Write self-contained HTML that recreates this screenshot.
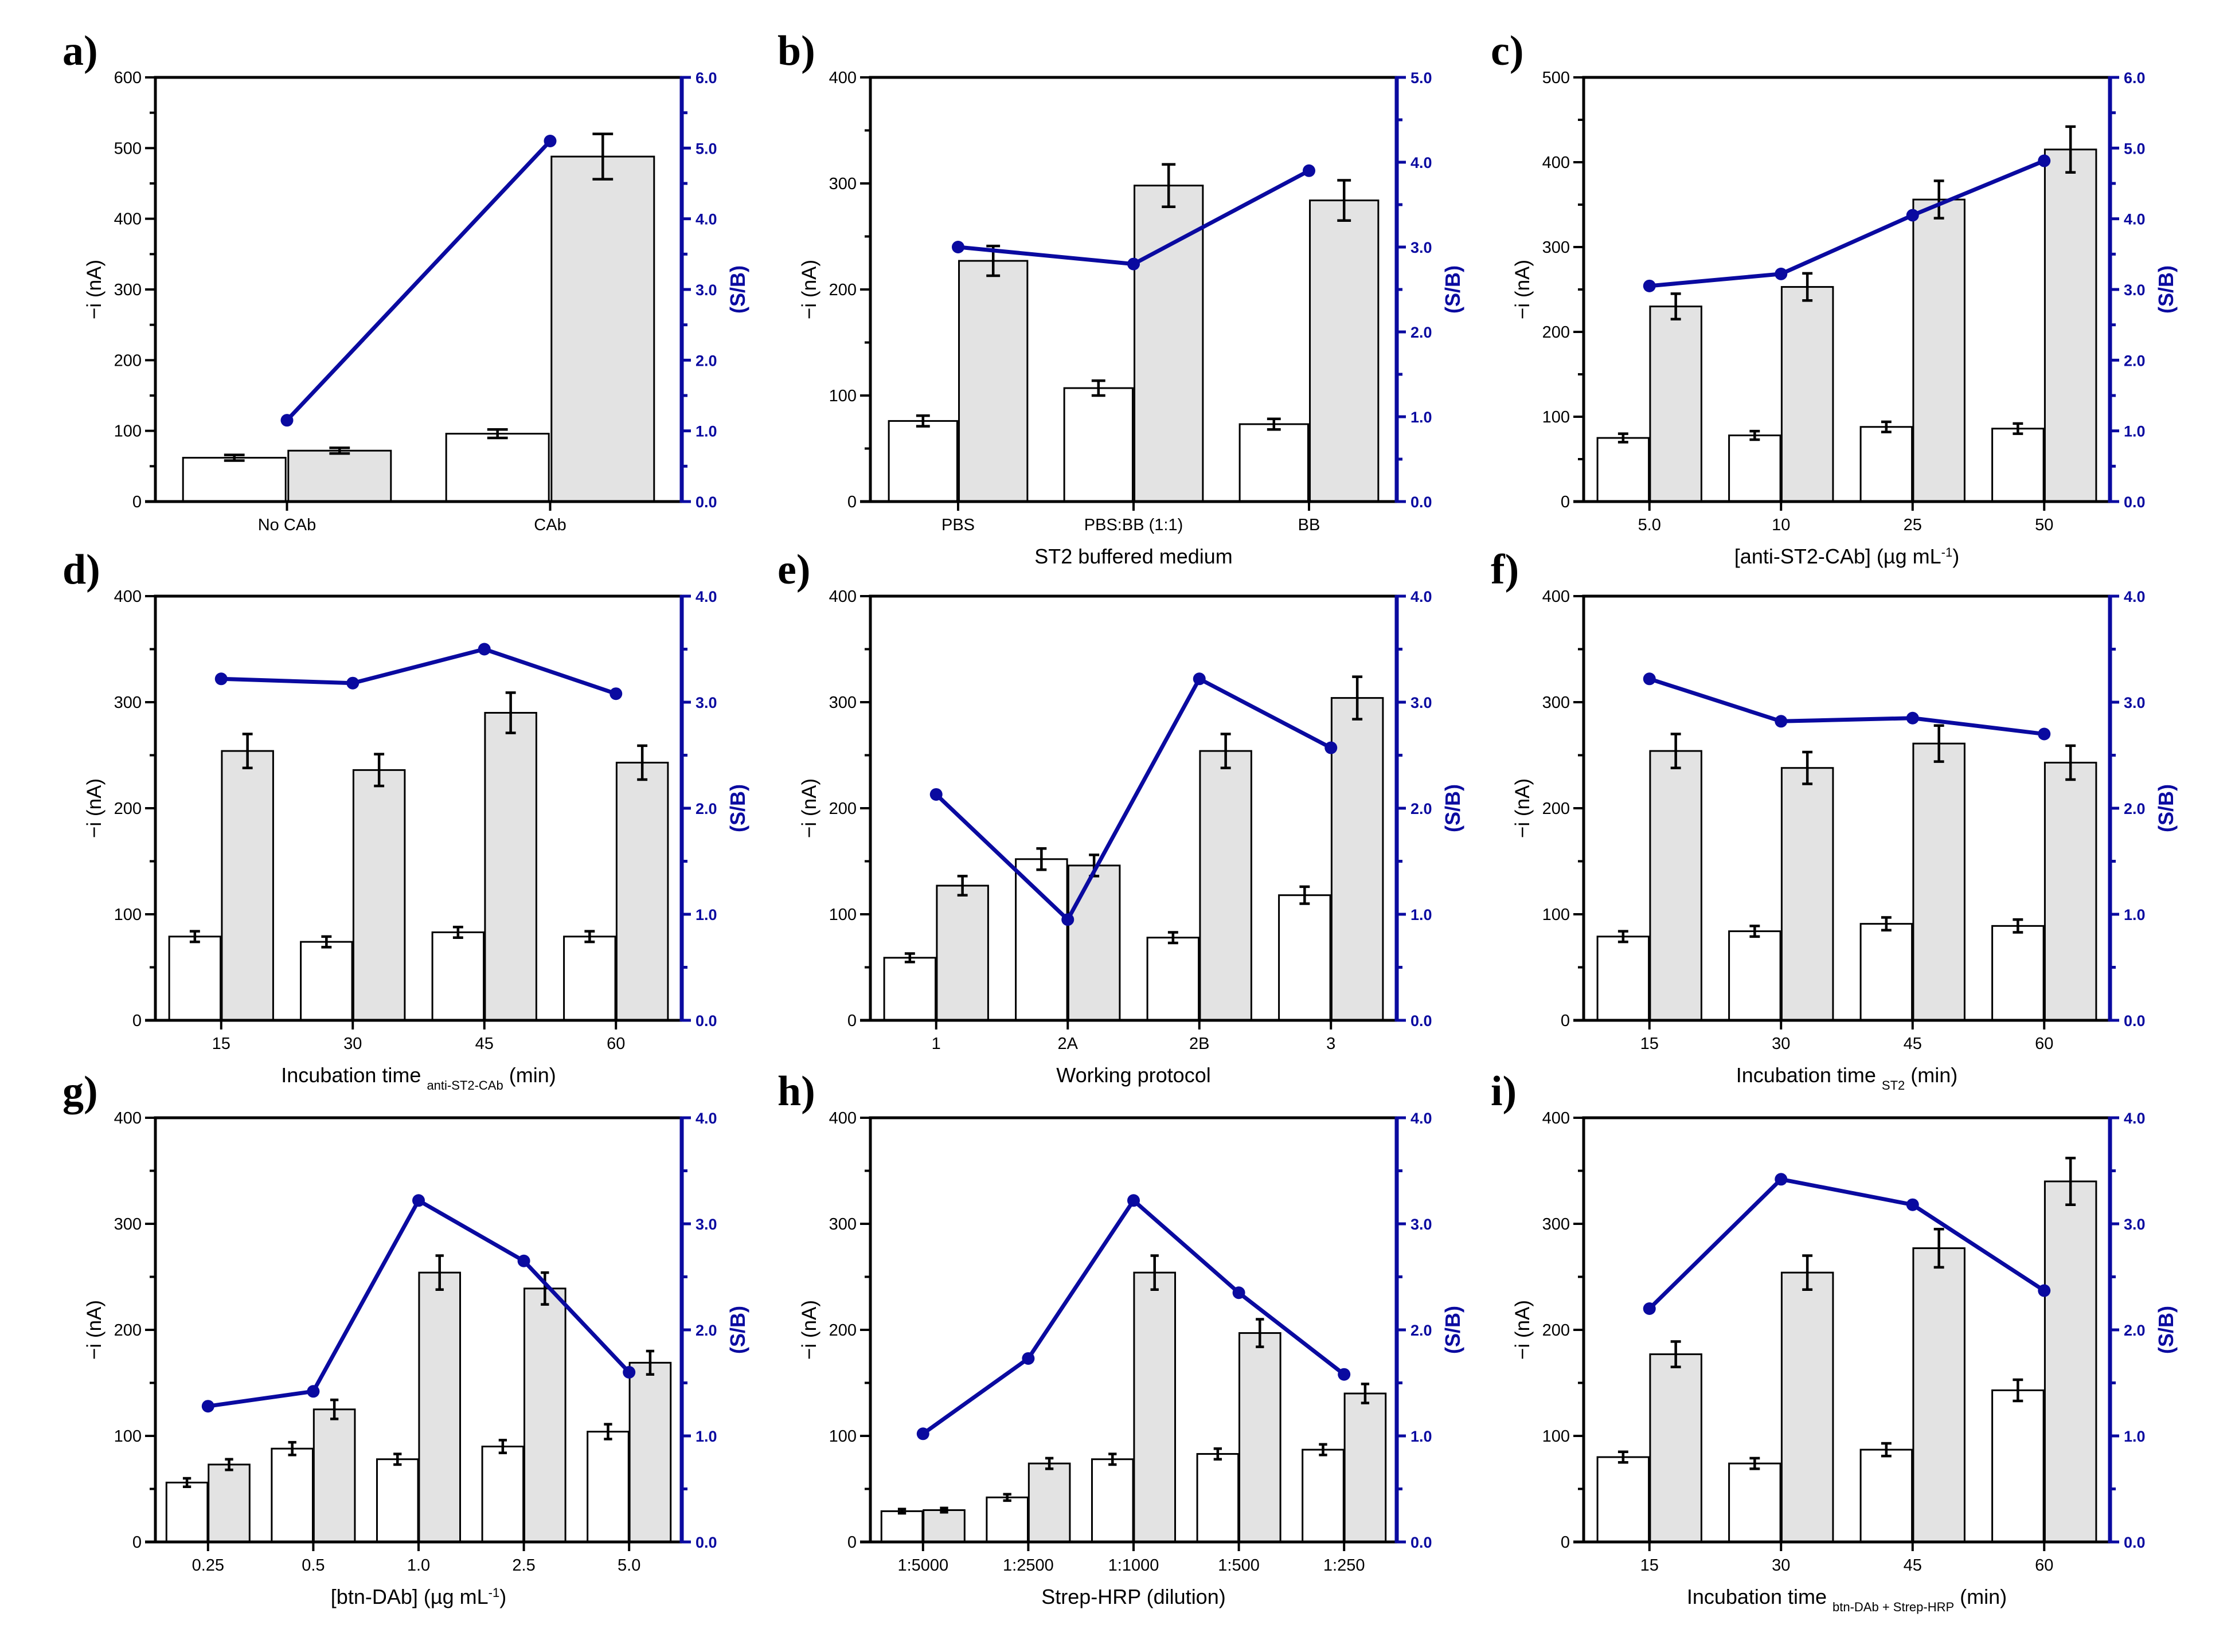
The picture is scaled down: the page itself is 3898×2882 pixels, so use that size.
<!DOCTYPE html>
<html><head><meta charset="utf-8"><style>
html,body{margin:0;padding:0;background:#fff;}
svg{display:block;}
text{font-family:"Liberation Sans",sans-serif;}
text.plab{font-family:"Liberation Serif",serif;}
</style></head>
<body>
<svg id="fig" width="3898" height="2882" viewBox="0 0 3898 2882" xmlns="http://www.w3.org/2000/svg"></svg>
<script>
// ---- data ----
const aCats=["No CAb","CAb"];
const aWhite=[62,96];const aWhiteErr=[4,6];
const aGrey=[72,488];const aGreyErr=[4,32];
const aSB=[1.15,5.1];
const bCats=["PBS","PBS:BB (1:1)","BB"];
const bWhite=[76,107,73];const bWhiteErr=[5,7,5];
const bGrey=[227,298,284];const bGreyErr=[14,20,19];
const bSB=[3.0,2.8,3.9];
const cCats=["5.0","10","25","50"];
const cWhite=[75,78,88,86];const cWhiteErr=[5,5,6,6];
const cGrey=[230,253,356,415];const cGreyErr=[15,16,22,27];
const cSB=[3.05,3.22,4.05,4.82];
const dCats=["15","30","45","60"];
const dWhite=[79,74,83,79];const dWhiteErr=[5,5,5,5];
const dGrey=[254,236,290,243];const dGreyErr=[16,15,19,16];
const dSB=[3.22,3.18,3.5,3.08];
const eCats=["1","2A","2B","3"];
const eWhite=[59,152,78,118];const eWhiteErr=[4,10,5,8];
const eGrey=[127,146,254,304];const eGreyErr=[9,10,16,20];
const eSB=[2.13,0.95,3.22,2.57];
const fCats=["15","30","45","60"];
const fWhite=[79,84,91,89];const fWhiteErr=[5,5,6,6];
const fGrey=[254,238,261,243];const fGreyErr=[16,15,17,16];
const fSB=[3.22,2.82,2.85,2.7];
const gCats=["0.25","0.5","1.0","2.5","5.0"];
const gWhite=[56,88,78,90,104];const gWhiteErr=[4,6,5,6,7];
const gGrey=[73,125,254,239,169];const gGreyErr=[5,9,16,15,11];
const gSB=[1.28,1.42,3.22,2.65,1.6];
const hCats=["1:5000","1:2500","1:1000","1:500","1:250"];
const hWhite=[29,42,78,83,87];const hWhiteErr=[2,3,5,5,5];
const hGrey=[30,74,254,197,140];const hGreyErr=[2,5,16,13,9];
const hSB=[1.02,1.73,3.22,2.35,1.58];
const iCats=["15","30","45","60"];
const iWhite=[80,74,87,143];const iWhiteErr=[5,5,6,10];
const iGrey=[177,254,277,340];const iGreyErr=[12,16,18,22];
const iSB=[2.2,3.42,3.18,2.37];

const NS="http://www.w3.org/2000/svg";
const svg=document.getElementById('fig');
function el(tag,attrs,parent){const e=document.createElementNS(NS,tag);for(const k in attrs)e.setAttribute(k,attrs[k]);(parent||svg).appendChild(e);return e;}

const panels=[
 {id:"a",col:0,row:0,cats:aCats,w:aWhite,we:aWhiteErr,g:aGrey,ge:aGreyErr,sb:aSB,ymax:600,ystep:100,rmax:6,xl:null},
 {id:"b",col:1,row:0,cats:bCats,w:bWhite,we:bWhiteErr,g:bGrey,ge:bGreyErr,sb:bSB,ymax:400,ystep:100,rmax:5,xl:[["ST2 buffered medium",0]]},
 {id:"c",col:2,row:0,cats:cCats,w:cWhite,we:cWhiteErr,g:cGrey,ge:cGreyErr,sb:cSB,ymax:500,ystep:100,rmax:6,xl:[["[anti-ST2-CAb] (µg mL",0],["-1",1],[")",0]]},
 {id:"d",col:0,row:1,cats:dCats,w:dWhite,we:dWhiteErr,g:dGrey,ge:dGreyErr,sb:dSB,ymax:400,ystep:100,rmax:4,xl:[["Incubation time ",0],["anti-ST2-CAb",-1],[" (min)",0]]},
 {id:"e",col:1,row:1,cats:eCats,w:eWhite,we:eWhiteErr,g:eGrey,ge:eGreyErr,sb:eSB,ymax:400,ystep:100,rmax:4,xl:[["Working protocol",0]]},
 {id:"f",col:2,row:1,cats:fCats,w:fWhite,we:fWhiteErr,g:fGrey,ge:fGreyErr,sb:fSB,ymax:400,ystep:100,rmax:4,xl:[["Incubation time ",0],["ST2",-1],[" (min)",0]]},
 {id:"g",col:0,row:2,cats:gCats,w:gWhite,we:gWhiteErr,g:gGrey,ge:gGreyErr,sb:gSB,ymax:400,ystep:100,rmax:4,xl:[["[btn-DAb] (µg mL",0],["-1",1],[")",0]]},
 {id:"h",col:1,row:2,cats:hCats,w:hWhite,we:hWhiteErr,g:hGrey,ge:hGreyErr,sb:hSB,ymax:400,ystep:100,rmax:4,xl:[["Strep-HRP (dilution)",0]]},
 {id:"i",col:2,row:2,cats:iCats,w:iWhite,we:iWhiteErr,g:iGrey,ge:iGreyErr,sb:iSB,ymax:400,ystep:100,rmax:4,xl:[["Incubation time ",0],["btn-DAb + Strep-HRP",-1],[" (min)",0]]}
];
const colX=[271,1518,2762], rowY=[135,1040,1950], PW=918, PH=740;
const BLUE="#0a0aa0";

panels.forEach(p=>{
 const L=colX[p.col], T=rowY[p.row], R=L+PW, B=T+PH;
 const grp=el('g',{});
 
 
 const n=p.cats.length, cw=PW/n;
 const xc=i=>L+(i+0.5)*cw;
 const yL=v=>B-v/p.ymax*PH;
 const yR=v=>B-v/p.rmax*PH;
 const lab=el('text',{class:'plab',x:L-162,y:T-22,'font-weight':'bold','font-size':74,fill:'#000'},grp);
 lab.textContent=p.id+")";
 
 
 for(let i=0;i<n;i++){
  const c=xc(i), bw=cw*0.39;
  [[p.w,p.we,c-0.005*cw-bw,'#ffffff','white'],[p.g,p.ge,c+0.005*cw,'#e3e3e3','grey']].forEach(s=>{
   const v=s[0][i], e=s[1][i], x=s[2];
   const r=el('rect',{x:x,y:yL(v),width:bw,height:B-yL(v),fill:s[3],stroke:'#000','stroke-width':3},grp);
   
   
   const ex=x+bw/2, cap=bw*0.1;
   const eb=el('path',{d:`M${ex},${yL(v+e)}V${yL(v-e)}M${ex-cap},${yL(v+e)}H${ex+cap}M${ex-cap},${yL(v-e)}H${ex+cap}`,stroke:'#000','stroke-width':4.5,fill:'none'},grp);
   
   
  });
 }
 el('path',{d:`M${L},${B}V${T}H${R}`,stroke:'#000','stroke-width':5,fill:'none'},grp);
 el('line',{x1:L-18,y1:B,x2:R,y2:B,stroke:'#000','stroke-width':5},grp);
 el('line',{x1:R,y1:T-2,x2:R,y2:B+2,stroke:BLUE,'stroke-width':7},grp);
 for(let v=0;v<=p.ymax;v+=p.ystep/2){
  const major=(v%p.ystep===0);
  el('line',{x1:L-(major?18:10),y1:yL(v),x2:L,y2:yL(v),stroke:'#000','stroke-width':4},grp);
  if(major){const t=el('text',{x:L-24,y:yL(v)+10,'text-anchor':'end','font-size':29,fill:'#000'},grp);t.textContent=v;
   }
 }
 for(let k=0;k<=p.rmax*2;k++){
  const v=k/2, major=(k%2===0);
  el('line',{x1:R,y1:yR(v),x2:R+(major?16:10),y2:yR(v),stroke:BLUE,'stroke-width':5},grp);
  if(major){const t=el('text',{x:R+24,y:yR(v)+10,'font-size':27,'font-weight':'bold',fill:BLUE},grp);t.textContent=v.toFixed(1);
   }
 }
 for(let i=0;i<n;i++){
  el('line',{x1:xc(i),y1:B,x2:xc(i),y2:B+16,stroke:'#000','stroke-width':4},grp);
  const t=el('text',{x:xc(i),y:B+50,'text-anchor':'middle','font-size':29,fill:'#000'},grp);t.textContent=p.cats[i];
  
 }
 const yt=el('text',{transform:`translate(${L-95},${T+PH/2}) rotate(-90)`,'text-anchor':'middle','font-size':35,fill:'#000'},grp);
 yt.textContent="\u2212i (nA)";
 
 const rt=el('text',{transform:`translate(${R+110},${T+PH/2}) rotate(-90)`,'text-anchor':'middle','font-size':36,'font-weight':'bold',fill:BLUE},grp);
 rt.textContent="(S/B)";
 
 if(p.xl){
  const xt=el('text',{x:L+PW/2,y:B+108,'text-anchor':'middle','font-size':36,fill:'#000'},grp);
  
  p.xl.forEach(s=>{const ts=el('tspan',{},xt);ts.textContent=s[0];
   if(s[1]!==0){ts.setAttribute('font-size',22);ts.setAttribute('baseline-shift',s[1]>0?'super':'sub');}});
 }
 const pts=p.sb.map((v,i)=>xc(i)+','+yR(v)).join(' ');
 const pl=el('polyline',{points:pts,fill:'none',stroke:BLUE,'stroke-width':7,'stroke-linejoin':'round'},grp);
 
 p.sb.forEach((v,i)=>{const c=el('circle',{cx:xc(i),cy:yR(v),r:11,fill:BLUE},grp);
  });
});
</script>
</body></html>
